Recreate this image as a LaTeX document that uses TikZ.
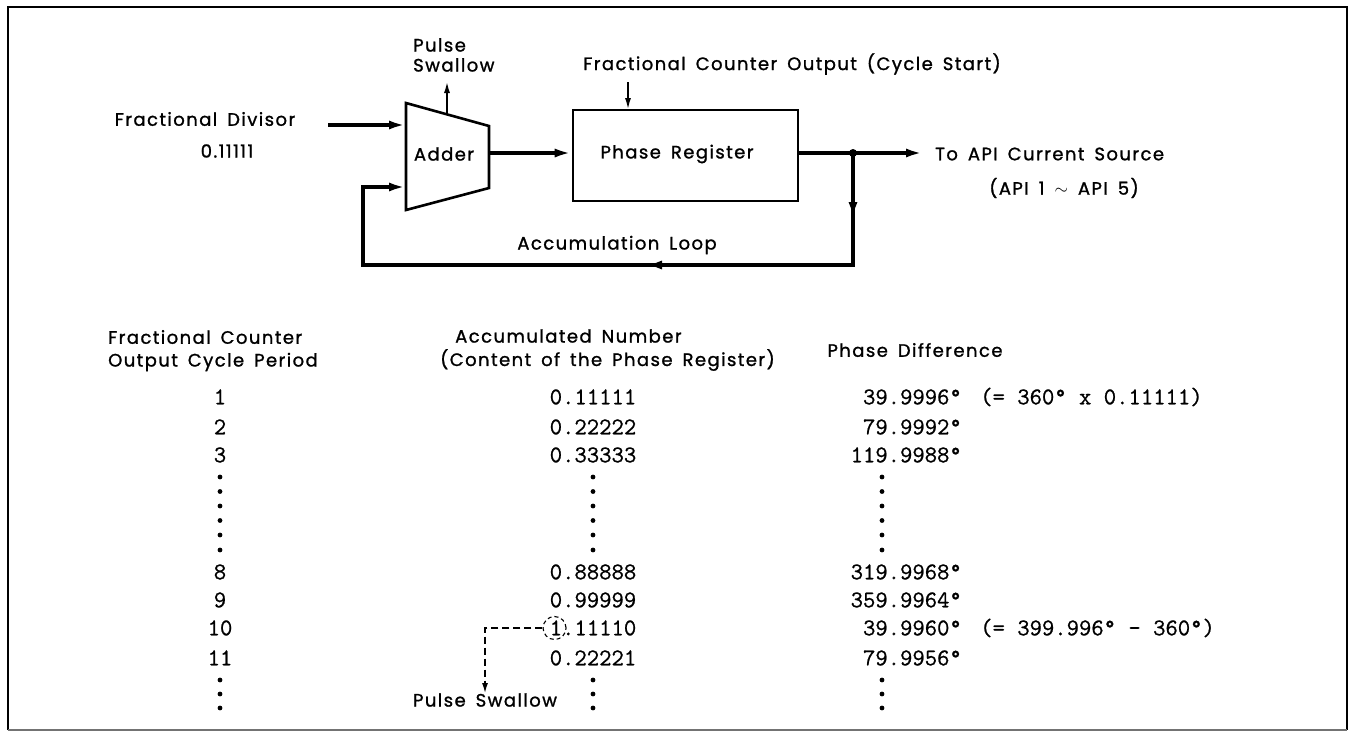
\documentclass[tikz,border=0pt]{standalone}
\usepackage{fontspec}
\newfontfamily\labfont{Poppins}[LetterSpace=8.0, WordSpace=1.6, FakeBold=1.2]
\newfontfamily\numfont{Latin Modern Mono}[FakeBold=0.8]
\usetikzlibrary{arrows.meta,decorations.markings,calc}
\tikzset{
  lab/.style={font=\labfont\fontsize{18}{20}\selectfont, inner sep=0pt},
  num/.style={font=\numfont\fontsize{24}{26}\selectfont, inner sep=0pt},
  sig/.style={line width=3.5pt, -{Latex[length=17pt,width=9pt]}},
  thin arrow/.style={line width=2pt, -{Latex[length=12pt,width=6pt]}},
  boxline/.style={line width=2.6pt, line join=miter},
  dotmark/.style={fill=black},
  swallow/.style={line width=1.4pt, dash pattern=on 7pt off 4pt},
}
\begin{document}
\begin{tikzpicture}[x=1pt,y=-1pt]
\useasboundingbox (0,0) rectangle (1357,732);
% frame
\draw[line width=2.5pt] (8,730) -- (8,7) -- (1347,7) -- (1347,730);
\draw[line width=1.5pt, black!55] (8,730) -- (1347,730);

% ---------- block diagram ----------
\coordinate (adTL) at (406,103);
\coordinate (adTR) at (489,126);
\coordinate (adBR) at (489,188);
\coordinate (adBL) at (406,210);
\coordinate (adIn1) at (406,125);
\coordinate (adIn2) at (406,187);
\coordinate (adOut) at (489,153);
\coordinate (adTop) at (447,114.3);
\draw[boxline] (adTL) -- (adTR) -- (adBR) -- (adBL) -- cycle;
\node[lab] (adder) at (444,154) {Adder};

\node[draw, boxline, minimum width=225pt, minimum height=91pt, inner sep=0pt] (pr) at (685.5,155.5) {};
\node[lab] (prl) at (677,154) {Phase Register};

\coordinate (divS) at (328,125);
\coordinate (jn) at (853,153);
\coordinate (outEnd) at (923,153);
\coordinate (lc1) at (853,265);
\coordinate (lc2) at (363,265);
\coordinate (lc3) at (363,187);
\coordinate (psTip) at (447,81);
\coordinate (fcoS) at (628,82);
\coordinate (fcoE) at (628,110);

\draw[sig] (divS) -- (adIn1);
\draw[sig] (adOut) -- (pr.west |- adOut);
\draw[sig] (pr.east |- jn) -- (outEnd);
\fill (jn) circle (4);
\draw[line width=3.5pt, line join=miter, -{Latex[length=17pt,width=9pt]},
  postaction={decorate, decoration={markings,
    mark=at position 66pt with {\arrow{Latex[length=17pt,width=9pt]}},
    mark=at position 320pt with {\arrow{Latex[length=17pt,width=9pt]}}}}]
  (jn) -- (lc1) -- (lc2) -- (lc3) -- (adIn2);
\draw[thin arrow] (adTop) -- (psTip);
\draw[thin arrow] (fcoS) -- (fcoE);

\node[lab, anchor=north west, align=left] (psw) at (413,38) {Pulse\\Swallow};
\node[lab] (fco) at (792,64) {Fractional Counter Output (Cycle Start)};
\node[lab] (fd) at (205,119) {Fractional Divisor};
\node[lab] (fdv) at (227,151) {0.11111};
\node[lab, anchor=west] (api) at (935,154) {To API Current Source};
\node[lab] (api2) at (1064,188) {(API 1 $\sim$ API 5)};
\node[lab] (accl) at (617,245) {Accumulation Loop};

% ---------- table ----------
\node[lab, anchor=west] (h1a) at (108,337) {Fractional Counter};
\node[lab, anchor=west] (h1b) at (108,362) {Output Cycle Period};
\node[lab, anchor=west] (h2a) at (455,336) {Accumulated Number};
\node[lab, anchor=west] (h2b) at (440,360) {(Content of the Phase Register)};
\node[lab] (h3) at (915,350) {Phase Difference};

\foreach \n/\y in {1/397, 2/427, 3/455, 8/572, 9/600, 10/628, 11/658}
  \node[num, anchor=base] (c1r\n) at (220,\y+7.3) {\n};
\foreach \v/\y [count=\i] in {0.11111/397, 0.22222/427, 0.33333/455, 0.88888/572, 0.99999/600, 0.22221/658}
  \node[num, anchor=base] (c2r\i) at (593,\y+7.3) {\v};
\node[num, anchor=base] (c2r10) at (593,635.3) {1.11110};
\foreach \v/\y [count=\i] in {39.9996/397, 79.9992/427, 119.9988/455, 319.9968/572, 359.9964/600, 39.9960/628, 79.9956/658}
  \node[num, anchor=base east] (c3r\i) at (962,\y+7.3) {\v°};
\node[num, anchor=base west] (ann1) at (980,404.3) {(= 360° x 0.11111)};
\node[num, anchor=base west] (ann2) at (980,635.3) {(= 399.996° - 360°)};

% dots
\foreach \x in {220,593,882}{
  \foreach \y in {477,491.5,506,520.5,535,550,680,694,708}
    \fill[dotmark] (\x,\y) circle (2.4);
}

% pulse swallow marker
\node[draw, circle, line width=1.1pt, dash pattern=on 4pt off 3pt, minimum size=23pt, inner sep=0pt]
  (cir) at ($(c2r10.base west)+(5.0,-7.3)$) {};
\node[lab] (psl) at (485,700) {Pulse Swallow};
\draw[swallow, -{Latex[length=10pt,width=6pt]}] (cir.west) -| (psl.north);
\end{tikzpicture}
\end{document}
